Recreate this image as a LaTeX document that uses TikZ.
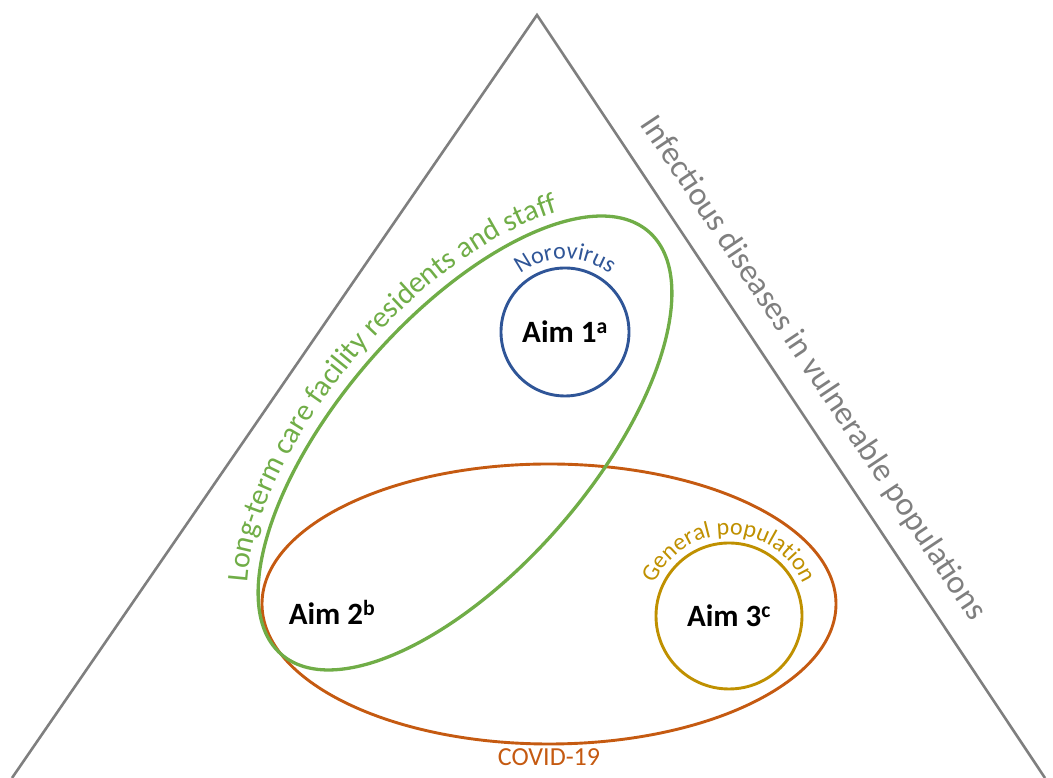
\documentclass[tikz,border=0pt]{standalone}
\usepackage{fontspec}
\setmainfont{Carlito}
\usetikzlibrary{decorations.text,positioning}
\definecolor{trigray}{HTML}{7F7F7F}
\definecolor{ltcgreen}{HTML}{70AD47}
\definecolor{noroblue}{HTML}{2F5597}
\definecolor{covidorange}{HTML}{C55A11}
\definecolor{gengold}{HTML}{BF9000}

\begin{document}
\begin{tikzpicture}[x=1pt, y=1pt, every node/.style={font=\fontsize{26}{31}\selectfont}, aim/.style={circle, line width=2.9pt, text=black, font=\bfseries\fontsize{31}{36}\selectfont, inner sep=0pt}, ring/.style={line width=2.9pt}, curvedlbl/.style={decorate, decoration={text along path, text align=center, text={#1}}}]
	\clip (0,0) rectangle (1053,778);
	\coordinate (apex) at (537,763);
	\coordinate (lb) at (12,0);
	\coordinate (rb) at (1045,0);
	\draw[trigray, line width=2.6pt] (lb) -- (apex) -- (rb) node[pos=0.488, sloped, above=15pt, text=trigray, font=\fontsize{33}{40}\selectfont] (vuln) {Infectious diseases in vulnerable populations};
	% COVID-19 ellipse
	\draw[covidorange, ring] (549,174) ellipse[x radius=287, y radius=140];
	\node[text=covidorange] (covidlbl) at (549,21) {COVID-19};
	% long-term care ellipse, tilted
	\begin{scope}[shift={(465,335)}, rotate=49]
		\draw[ltcgreen, line width=3.3pt] (0,0) ellipse[x radius=280, y radius=126];
		\path[curvedlbl={|\color{ltcgreen}\fontsize{30}{36}\selectfont|Long-term care facility residents and staff}] (160:292 and 138) arc[start angle=160, end angle=25, x radius=292, y radius=138];
	\end{scope}
	\node[aim, draw=noroblue, minimum size=128pt] (aim1) at (565,446) {Aim 1\textsuperscript{a}};
	\path[curvedlbl={|\color{noroblue}\fontsize{24}{29}\selectfont|Norovirus}] (aim1.center) ++(140:73) arc[start angle=140, end angle=40, radius=73];
	\node[aim, draw=gengold, minimum size=146pt] (aim3) at (729,162) {Aim 3\textsuperscript{c}};
	\path[curvedlbl={|\color{gengold}\fontsize{24}{29}\selectfont|General population}] (aim3.center) ++(175:81) arc[start angle=175, end angle=5, radius=81];
	\node[font=\bfseries\fontsize{31}{36}\selectfont] (aim2) at (332,166) {Aim 2\textsuperscript{b}};
\end{tikzpicture}
\end{document}
